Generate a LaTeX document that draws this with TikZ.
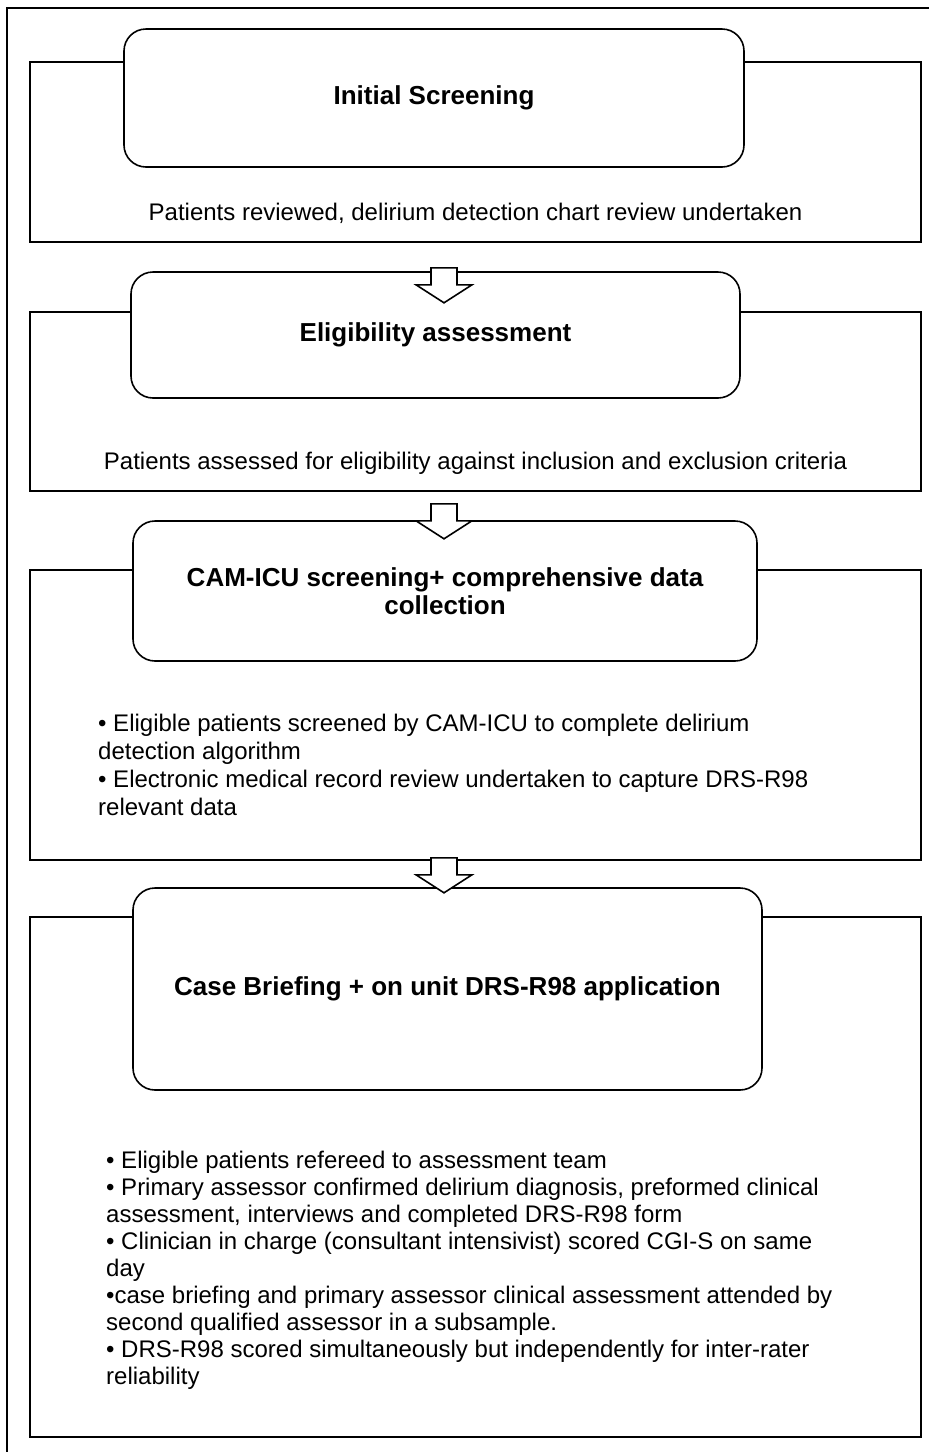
\documentclass[tikz,border=0pt]{standalone}
\usepackage{fontspec}
\setmainfont{Liberation Sans}
\usetikzlibrary{positioning,calc}

% block arrow pointing down, #1 = top centre of the shaft
\newcommand{\flowarrow}[1]{%
  \draw[blockarrow] #1 ++(-13,0) -- ++(26,0) -- ++(0,17) -- ++(15,0)
    -- ++(-28,18) -- ++(-28,-18) -- ++(15,0) -- cycle;}

\begin{document}
\begin{tikzpicture}[
  x=1pt, y=-1pt,
  stagebox/.style={draw, line width=1.6pt, inner sep=0pt},
  titlebox/.style={draw, line width=1.6pt, fill=white, rounded corners=22pt, align=center, inner sep=4pt,
    font=\fontsize{26}{28}\selectfont\bfseries},
  desc/.style={inner sep=0pt, font=\fontsize{24}{28}\selectfont},
  bullets/.style={desc, anchor=west, align=left},
  blockarrow/.style={draw, line width=1.6pt, fill=white, line join=miter},
]
\useasboundingbox (0,0) rectangle (929,1452);

% outer frame (only top and left edge visible)
\draw[line width=2pt] (929,8) -| (7,1452);

% Stage 1 -- initial screening
\node[stagebox, minimum width=891pt, minimum height=180pt] (s1) at (475.5,152) {};
\node[titlebox, minimum width=620pt, minimum height=138pt] (t1) at (434,98) {Initial Screening};
\node[desc] (d1) at (475.5,213) {Patients reviewed, delirium detection chart review undertaken};

% Stage 2 -- eligibility
\node[stagebox, minimum width=891pt, minimum height=179pt] (s2) at (475.5,401.5) {};
\node[titlebox, minimum width=609pt, minimum height=126pt] (t2) at (435.5,335) {Eligibility assessment};
\node[desc] (d2) at (475.5,463) {Patients assessed for eligibility against inclusion and exclusion criteria};

% Stage 3 -- CAM-ICU screening
\node[stagebox, minimum width=891pt, minimum height=290pt] (s3) at (475.5,715) {};
\node[titlebox, minimum width=624pt, minimum height=140pt] (t3) at (445,591)
  {CAM-ICU screening+ comprehensive data\\collection};
\node[bullets] (d3) at (98,765)
  {\textbullet\ Eligible patients screened by CAM-ICU to complete delirium\\
   detection algorithm\\
   \textbullet\ Electronic medical record review undertaken to capture DRS-R98\\
   relevant data};

% Stage 4 -- case briefing
\node[stagebox, minimum width=891pt, minimum height=520pt] (s4) at (475.5,1177) {};
\node[titlebox, minimum width=629pt, minimum height=202pt] (t4) at (447.5,989)
  {Case Briefing + on unit DRS-R98 application};
\node[bullets, font=\fontsize{24}{27}\selectfont] (d4) at (106,1270)
  {\textbullet\ Eligible patients refereed to assessment team\\
   \textbullet\ Primary assessor confirmed delirium diagnosis, preformed clinical\\
   assessment, interviews and completed DRS-R98 form\\
   \textbullet\ Clinician in charge (consultant intensivist) scored CGI-S on same\\
   day\\
   \textbullet case briefing and primary assessor clinical assessment attended by\\
   second qualified assessor in a subsample.\\
   \textbullet\ DRS-R98 scored simultaneously but independently for inter-rater\\
   reliability};

% arrows between stages
\coordinate (a1) at ($(s1.south -| t1.south)+(10,25)$);
\coordinate (a2) at ($(s2.south -| t1.south)+(10,12)$);
\coordinate (a3) at ($(s3.south -| t1.south)+(10,-3)$);
\flowarrow{(a1)}
\flowarrow{(a2)}
\flowarrow{(a3)}

\end{tikzpicture}
\end{document}
